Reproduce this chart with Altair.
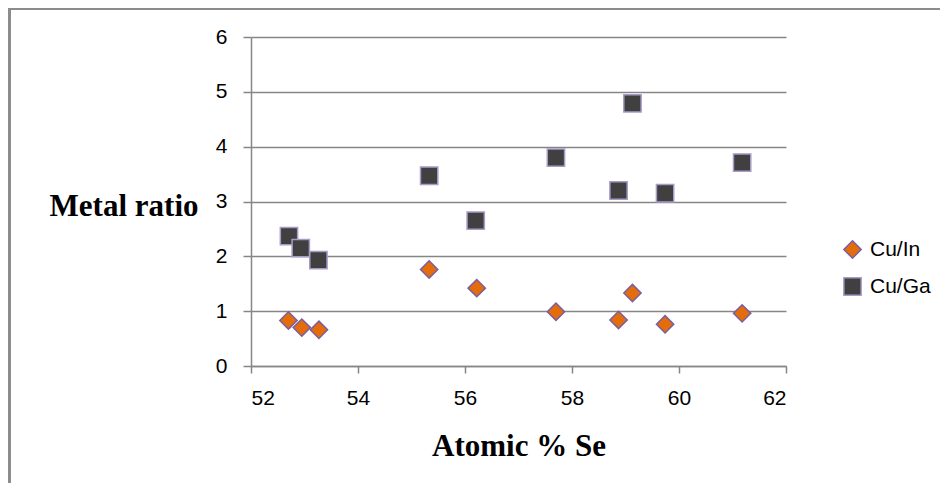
import altair as alt
import pandas as pd

se_in = [52.70, 52.95, 53.27, 55.33, 56.22, 57.70, 58.87, 59.13, 59.74, 61.18]
cu_in = [0.83, 0.70, 0.66, 1.76, 1.42, 0.99, 0.84, 1.33, 0.76, 0.96]
se_ga = [52.71, 52.93, 53.26, 55.33, 56.20, 57.70, 58.87, 59.13, 59.74, 61.18]
cu_ga = [2.37, 2.15, 1.93, 3.47, 2.65, 3.80, 3.20, 4.79, 3.15, 3.71]
series = ["Cu/In", "Cu/Ga"]

df = pd.DataFrame({
    "se": se_in + se_ga,
    "ratio": cu_in + cu_ga,
    "series": [series[0]] * len(se_in) + [series[1]] * len(se_ga),
})

W, H = 535, 329
grid = "#868686"

leg = alt.Legend(title=None, orient="none", legendX=591, legendY=202,
                 labelFont="Liberation Sans", labelFontSize=21, labelColor="black",
                 symbolSize=300, symbolStrokeWidth=1.5, rowPadding=12, labelOffset=7)

points = alt.Chart(df).mark_point(filled=True, size=300, strokeWidth=1.5, opacity=1).encode(
    x=alt.X("se:Q", scale=alt.Scale(domain=[52, 62], nice=False, zero=False),
            axis=alt.Axis(values=[52, 54, 56, 58, 60, 62], title="Atomic % Se",
                          grid=False, tickSize=7, tickColor=grid, domainColor=grid,
                          domainWidth=1.5, tickWidth=1.5,
                          labelFont="Liberation Sans", labelFontSize=21, labelColor="black",
                          labelPadding=14,
                          titleFont="Liberation Serif", titleFontSize=31, titleFontWeight="bold",
                          titleColor="black", titleBaseline="alphabetic", titleY=89)),
    y=alt.Y("ratio:Q", scale=alt.Scale(domain=[0, 6], nice=False),
            axis=alt.Axis(values=[0, 1, 2, 3, 4, 5, 6], title="Metal ratio",
                          grid=True, gridColor=grid, gridWidth=1.5,
                          tickSize=8, tickColor=grid, domainColor=grid, domainWidth=1.5,
                          tickWidth=1.5,
                          labelFont="Liberation Sans", labelFontSize=21, labelColor="black",
                          labelPadding=16,
                          titleFont="Liberation Serif", titleFontSize=31, titleFontWeight="bold",
                          titleColor="black", titleAngle=0, titleAlign="right",
                          titleBaseline="alphabetic", titleX=-53, titleY=178)),
    fill=alt.Fill("series:N", scale=alt.Scale(domain=series, range=["#E46C0A", "#404040"]), legend=leg),
    stroke=alt.Stroke("series:N", scale=alt.Scale(domain=series, range=["#7A5FA0", "#A99BC9"]), legend=leg),
    shape=alt.Shape("series:N", scale=alt.Scale(domain=series, range=["diamond", "square"]), legend=leg),
)

frame_top = alt.Chart(df).mark_rule(color="#8c8c8c", strokeWidth=1.5, clip=False).encode(
    x=alt.value(-242), x2=alt.value(700), y=alt.value(-28.5))
frame_left = alt.Chart(df).mark_rule(color="#8c8c8c", strokeWidth=1.5, clip=False).encode(
    x=alt.value(-241.5), y=alt.value(-29), y2=alt.value(446))

chart = alt.layer(frame_top, frame_left, points).properties(
    width=W, height=H,
    autosize=alt.AutoSizeParams(type="none"),
    padding={"left": 243, "top": 29, "right": 154, "bottom": 117},
).configure_view(stroke=None)

chart.save("out.html", embed_options={"renderer": "svg", "actions": False})
